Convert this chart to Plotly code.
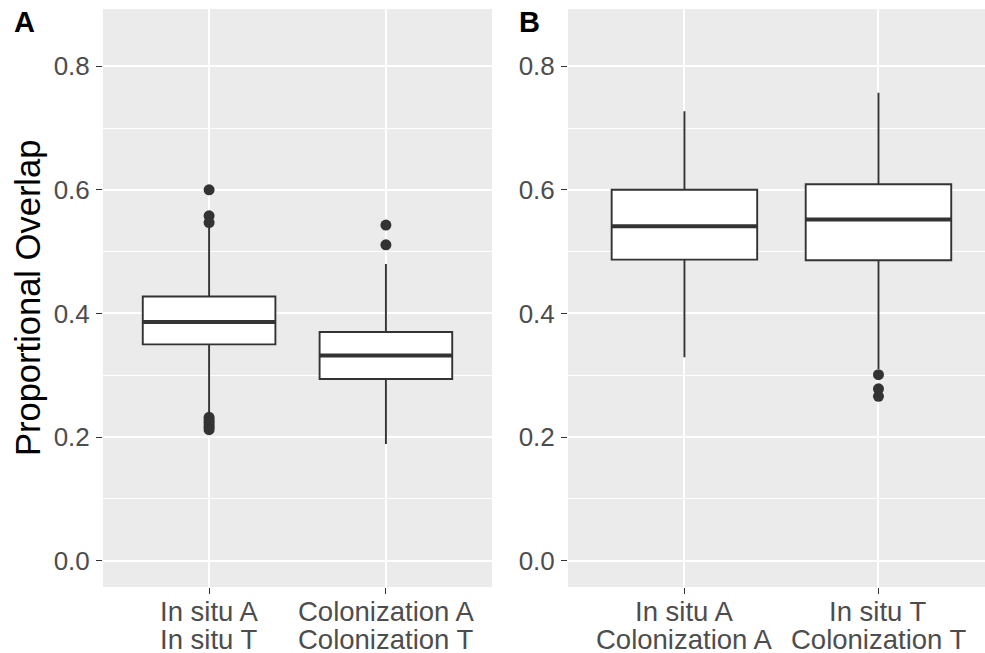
import plotly.graph_objects as go

# ---- data -------------------------------------------------------------
labels_a = [["In situ A", "In situ T"], ["Colonization A", "Colonization T"]]
labels_b = [["In situ A", "Colonization A"], ["In situ T", "Colonization T"]]

# box statistics per panel: lower whisker, Q1, median, Q3, upper whisker
lower_a = [0.237, 0.189]
q1_a = [0.350, 0.294]
median_a = [0.386, 0.332]
q3_a = [0.4275, 0.370]
upper_a = [0.541, 0.480]
outliers_a = [
    [0.600, 0.558, 0.547, 0.232, 0.228, 0.224, 0.220, 0.216, 0.212],
    [0.543, 0.511],
]

lower_b = [0.329, 0.310]
q1_b = [0.487, 0.486]
median_b = [0.541, 0.552]
q3_b = [0.600, 0.609]
upper_b = [0.727, 0.757]
outliers_b = [
    [],
    [0.301, 0.278, 0.266],
]

y_ticks = [0.0, 0.2, 0.4, 0.6, 0.8]
y_minor = [0.1, 0.3, 0.5, 0.7]

# ---- styling ----------------------------------------------------------
W, H = 985, 653
FONT = "Liberation Sans, Arial, sans-serif"
DARK = "#333333"
TICK_TXT = "#4D4D4D"
PANEL_BG = "#EBEBEB"
BOX_W = 0.75


def px_x(p):
    return p / W


def px_y(p):
    return 1 - p / H


fig = go.Figure()


def add_panel(xa, ya, lower, q1, med, q3, upper, outs):
    for i in range(len(med)):
        pos = i + 1
        fig.add_trace(go.Box(
            x=[pos], q1=[q1[i]], median=[med[i]], q3=[q3[i]],
            lowerfence=[lower[i]], upperfence=[upper[i]],
            width=BOX_W, whiskerwidth=0, fillcolor="white",
            line=dict(color=DARK, width=1.9), boxpoints=False,
            xaxis=xa, yaxis=ya, showlegend=False, hoverinfo="skip",
        ))
        # thick median bar
        fig.add_trace(go.Scatter(
            x=[pos - BOX_W / 2, pos + BOX_W / 2], y=[med[i], med[i]],
            mode="lines", line=dict(color=DARK, width=4),
            xaxis=xa, yaxis=ya, showlegend=False, hoverinfo="skip",
        ))
        if outs[i]:
            fig.add_trace(go.Scatter(
                x=[pos] * len(outs[i]), y=outs[i], mode="markers",
                marker=dict(color=DARK, size=11),
                xaxis=xa, yaxis=ya, showlegend=False, hoverinfo="skip",
            ))


add_panel("x", "y", lower_a, q1_a, median_a, q3_a, upper_a, outliers_a)
add_panel("x2", "y2", lower_b, q1_b, median_b, q3_b, upper_b, outliers_b)

y_dom = [px_y(587), px_y(9)]
y_common = dict(
    range=[-0.0425, 0.8925], tickvals=y_ticks,
    ticktext=[f"{v:.1f}" for v in y_ticks],
    showgrid=True, gridcolor="white", gridwidth=1.8, zeroline=False,
    ticks="outside", ticklen=6, tickwidth=1.4, tickcolor=DARK,
    tickfont=dict(family=FONT, size=26, color=TICK_TXT),
    ticklabelstandoff=1,
    minor=dict(tickvals=y_minor, showgrid=True, gridcolor="white",
               gridwidth=0.9, ticks=""),
    domain=y_dom, showline=False,
)
x_common = dict(
    tickvals=[1, 2], showticklabels=False, showgrid=True,
    gridcolor="white", gridwidth=1.8, zeroline=False,
    ticks="outside", ticklen=6, tickwidth=1.4, tickcolor=DARK,
    showline=False,
)

fig.update_layout(
    width=W, height=H,
    margin=dict(l=0, r=0, t=0, b=0),
    paper_bgcolor="white", plot_bgcolor=PANEL_BG,
    font=dict(family=FONT),
    xaxis=dict(x_common, domain=[px_x(103), px_x(492)], range=[0.4, 2.6],
               anchor="y"),
    yaxis=dict(y_common, anchor="x"),
    xaxis2=dict(x_common, domain=[px_x(568), 1.0], range=[0.4, 2.549],
                anchor="y2"),
    yaxis2=dict(y_common, anchor="x2"),
)

annotations = []
# category labels, two lines each
for xref, labs in (("x", labels_a), ("x2", labels_b)):
    for i, lines in enumerate(labs):
        for j, txt in enumerate(lines):
            annotations.append(dict(
                x=i + 1, xref=xref, y=px_y(611 + 28 * j), yref="paper",
                text=txt, showarrow=False, xanchor="center", yanchor="middle",
                height=28, borderpad=0,
                font=dict(family=FONT, size=27.5, color=TICK_TXT),
            ))

# axis title
annotations.append(dict(
    x=px_x(28), y=px_y(298), xref="paper", yref="paper",
    text="Proportional Overlap", textangle=-90, showarrow=False,
    xanchor="center", yanchor="middle",
    font=dict(family=FONT, size=34.5, color="black"),
))

# panel tags
for tag, cx in (("A", 24), ("B", 529)):
    annotations.append(dict(
        x=px_x(cx), y=px_y(22), xref="paper", yref="paper",
        text=f"<b>{tag}</b>", showarrow=False,
        xanchor="center", yanchor="middle",
        font=dict(family=FONT, size=29, color="black"),
    ))

fig.update_layout(annotations=annotations)

fig.write_html("out.html")
